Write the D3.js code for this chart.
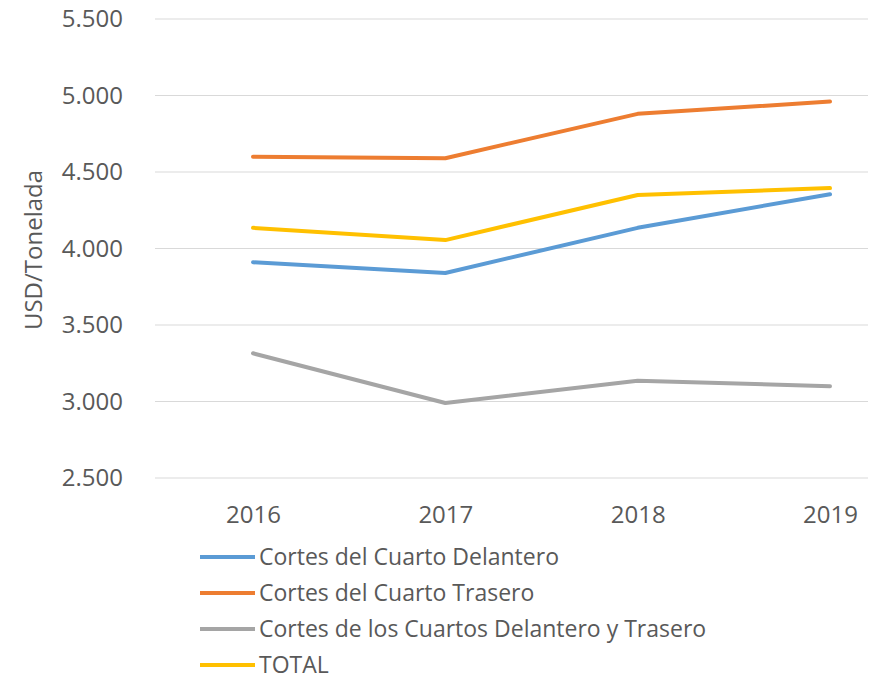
<!DOCTYPE html>
<html>
<head>
<meta charset="utf-8">
<script src="https://cdn.jsdelivr.net/npm/d3@7"></script>
<style>
body { margin: 0; background: #fff; }
text { font-family: "Open Sans", "Noto Sans", sans-serif; fill: #595959; }
</style>
</head>
<body>
<div id="chart"></div>
<script>
var years = ["2016", "2017", "2018", "2019"];
var seriesNames = ["Cortes del Cuarto Delantero", "Cortes del Cuarto Trasero",
    "Cortes de los Cuartos Delantero y Trasero", "TOTAL"];
var delantero = [3910, 3840, 4135, 4355];
var trasero = [4600, 4590, 4880, 4960];
var ambos = [3315, 2990, 3135, 3100];
var total = [4135, 4055, 4350, 4395];
var yTicks = [2500, 3000, 3500, 4000, 4500, 5000, 5500];
var colors = ["#5B9BD5", "#ED7D31", "#A5A5A5", "#FFC000"];

var series = [delantero, trasero, ambos, total];

var width = 875, height = 680;
var svg = d3.select("#chart").append("svg")
    .attr("width", width)
    .attr("height", height);

var locale = d3.formatLocale({decimal: ",", thousands: ".", grouping: [3], currency: ["$", ""]});
var fmt = locale.format(",.0f");

// plot area
var gridLeft = 155, gridRight = 868;
var x = d3.scalePoint().domain(years).range([253, 830]);
var y = d3.scaleLinear().domain([2500, 5500]).range([478, 19]);

// gridlines
svg.append("g").selectAll("line")
    .data(yTicks)
    .enter().append("line")
    .attr("x1", gridLeft)
    .attr("x2", gridRight)
    .attr("y1", function(d) { return y(d); })
    .attr("y2", function(d) { return y(d); })
    .style("stroke", "#D9D9D9")
    .style("stroke-width", 1);

// y axis labels
var yAxis = d3.axisLeft(y).tickValues(yTicks).tickFormat(fmt).tickSize(0).tickPadding(0);
var gy = svg.append("g")
    .attr("transform", "translate(123,0)")
    .call(yAxis);
gy.select(".domain").remove();
gy.selectAll("text")
    .style("font-size", "24px")
    .style("font-family", "\"Open Sans\", sans-serif")
    .attr("fill", "#595959");

// x axis labels
var xAxis = d3.axisBottom(x).tickSize(0).tickPadding(0);
var gx = svg.append("g")
    .attr("transform", "translate(0,506)")
    .call(xAxis);
gx.select(".domain").remove();
gx.selectAll("text")
    .style("font-size", "24px")
    .style("font-family", "\"Open Sans\", sans-serif")
    .attr("fill", "#595959");

// axis title
svg.append("text")
    .attr("transform", "translate(42,250) rotate(-90)")
    .attr("text-anchor", "middle")
    .style("font-size", "24px")
    .text("USD/Tonelada");

// lines
var line = d3.line()
    .x(function(d, i) { return x(years[i]); })
    .y(function(d) { return y(d); });

svg.append("g").selectAll("path")
    .data(series)
    .enter().append("path")
    .attr("d", line)
    .style("fill", "none")
    .style("stroke", function(d, i) { return colors[i]; })
    .style("stroke-width", 4)
    .style("stroke-linejoin", "round")
    .style("stroke-linecap", "round");

// legend
var legend = svg.append("g").selectAll("g")
    .data(seriesNames)
    .enter().append("g")
    .attr("transform", function(d, i) { return "translate(200," + (557 + i * 36) + ")"; });

legend.append("line")
    .attr("x1", 0).attr("x2", 55)
    .attr("y1", 0).attr("y2", 0)
    .style("stroke", function(d, i) { return colors[i]; })
    .style("stroke-width", 4);

legend.append("text")
    .attr("x", 59)
    .attr("y", 8)
    .style("font-size", "23px")
    .text(function(d) { return d; });
</script>
</body>
</html>
